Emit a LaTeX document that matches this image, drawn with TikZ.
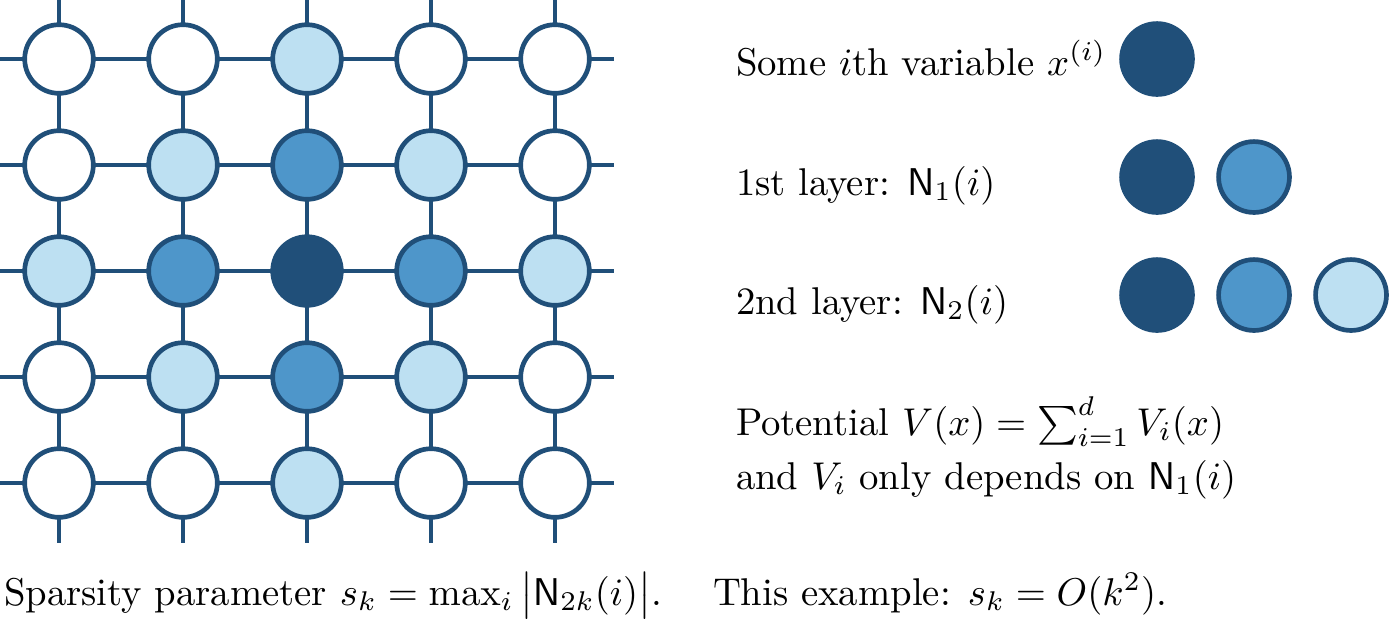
\documentclass[tikz,border=0pt]{standalone}
\usepackage{amsmath}
\begin{document}
\begin{tikzpicture}[x=0.2584pt,y=-0.2584pt,
  gridline/.style={draw=dblue,line width=0.9pt},
  cell/.style={circle,draw=dblue,line width=1.21pt,minimum size=17.73pt,inner sep=0pt,outer sep=0pt},
  legcell/.style={circle,draw=dblue,line width=1.21pt,minimum size=18.32pt,inner sep=0pt,outer sep=0pt},
  cW/.style={fill=white},
  cL/.style={fill=lblue},
  cM/.style={fill=mblue},
  cD/.style={fill=dblue},
  txt/.style={inner sep=0pt,outer sep=0pt,anchor=base west,font=\fontsize{10}{12}\selectfont}]
\definecolor{dblue}{RGB}{32,79,121}
\definecolor{mblue}{RGB}{78,150,202}
\definecolor{lblue}{RGB}{189,224,242}
\useasboundingbox (0,0) rectangle (1390,627);
% row 0
\node[cell,cW] (n00) at (59,59) {};
\node[cell,cW] (n01) at (183,59) {};
\node[cell,cL] (n02) at (307,59) {};
\node[cell,cW] (n03) at (431,59) {};
\node[cell,cW] (n04) at (555,59) {};
% row 1
\node[cell,cW] (n10) at (59,165) {};
\node[cell,cL] (n11) at (183,165) {};
\node[cell,cM] (n12) at (307,165) {};
\node[cell,cL] (n13) at (431,165) {};
\node[cell,cW] (n14) at (555,165) {};
% row 2
\node[cell,cL] (n20) at (59,271) {};
\node[cell,cM] (n21) at (183,271) {};
\node[cell,cD] (n22) at (307,271) {};
\node[cell,cM] (n23) at (431,271) {};
\node[cell,cL] (n24) at (555,271) {};
% row 3
\node[cell,cW] (n30) at (59,377) {};
\node[cell,cL] (n31) at (183,377) {};
\node[cell,cM] (n32) at (307,377) {};
\node[cell,cL] (n33) at (431,377) {};
\node[cell,cW] (n34) at (555,377) {};
% row 4
\node[cell,cW] (n40) at (59,483) {};
\node[cell,cW] (n41) at (183,483) {};
\node[cell,cL] (n42) at (307,483) {};
\node[cell,cW] (n43) at (431,483) {};
\node[cell,cW] (n44) at (555,483) {};
% free ends
\foreach \r/\y in {0/59,1/165,2/271,3/377,4/483}{
  \coordinate (L\r) at (0,\y);
  \coordinate (R\r) at (614,\y);
}
\foreach \c/\x in {0/59,1/183,2/307,3/431,4/555}{
  \coordinate (T\c) at (\x,0);
  \coordinate (B\c) at (\x,543);
}
% connectors
\foreach \r in {0,...,4}{
  \draw[gridline] (L\r) -- (n\r0);
  \draw[gridline] (n\r4) -- (R\r);
  \foreach \c [evaluate=\c as \cn using int(\c+1)] in {0,...,3}{
    \draw[gridline] (n\r\c) -- (n\r\cn);
  }
}
\foreach \c in {0,...,4}{
  \draw[gridline] (T\c) -- (n0\c);
  \draw[gridline] (n4\c) -- (B\c);
  \foreach \r [evaluate=\r as \rn using int(\r+1)] in {0,...,3}{
    \draw[gridline] (n\r\c) -- (n\rn\c);
  }
}
% legend
\node[txt] (t1) at (736,75) {Some $i$th variable $x^{(i)}$};
\node[legcell,cD] (a1) at (1157,59) {};
\node[txt] (t2) at (736,195) {1st layer: $\mathsf{N}_1(i)$};
\node[legcell,cD] (b1) at (1157,177) {};
\node[legcell,cM] (b2) at (1254,177) {};
\node[txt] (t3) at (736,314) {2nd layer: $\mathsf{N}_2(i)$};
\node[legcell,cD] (c1) at (1157,295) {};
\node[legcell,cM] (c2) at (1254,295) {};
\node[legcell,cL] (c3) at (1351,295) {};
\node[txt] (t4) at (736,435) {Potential $V(x)=\sum_{i=1}^d V_i(x)$};
\node[txt] (t5) at (736,489) {and $V_i$ only depends on $\mathsf{N}_1(i)$};
% bottom
\node[txt] (t6) at (4,605) {Sparsity parameter $s_k=\max_i\,\bigl|\mathsf{N}_{2k}(i)\bigr|$.};
\node[txt] (t7) at (713,605) {This example: $s_k=O(k^2)$.};
\end{tikzpicture}
\end{document}
